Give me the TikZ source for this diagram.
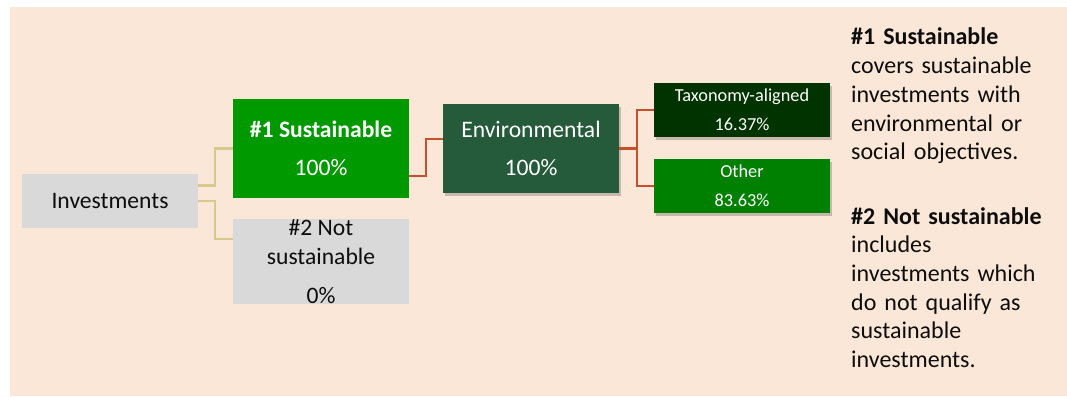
\documentclass[tikz,border=0pt]{standalone}
\usepackage{fontspec}
\setmainfont{Carlito}
\usetikzlibrary{shadows}
\definecolor{bgbeige}{HTML}{FBE7D7}
\definecolor{boxgrey}{HTML}{D9D9D9}
\definecolor{susgreen}{HTML}{009900}
\definecolor{envgreen}{HTML}{255A3B}
\definecolor{taxgreen}{HTML}{003300}
\definecolor{othgreen}{HTML}{008000}
\definecolor{khaki}{HTML}{D6C98E}
\definecolor{redline}{HTML}{C5502E}
\definecolor{txtblack}{HTML}{0D0D0D}
\tikzset{
  box/.style={rectangle, inner sep=0pt, minimum width=176pt, align=center},
  bigtext/.style={font=\fontsize{23.6pt}{29pt}\selectfont},
  smalltext/.style={font=\fontsize{18.3pt}{29pt}\selectfont},
  shade/.style={drop shadow={shadow xshift=2pt, shadow yshift=-2.5pt, opacity=0.2, fill=black}},
  khakiline/.style={draw=khaki, line width=2.4pt},
  redline/.style={draw=redline, line width=2.2pt},
  note/.style={anchor=base west, inner sep=0pt, text width=214pt, align=left, text=txtblack,
    font=\fontsize{24pt}{28.7pt}\selectfont},
}
\begin{document}
\begin{tikzpicture}[x=1pt, y=-1pt]
\useasboundingbox (0,0) rectangle (1067,396);
\fill[bgbeige] (10,7) rectangle (1067,396);

\node[box, bigtext, fill=boxgrey, minimum height=54pt, text=txtblack] (inv) at (110,201) {Investments};
\node[box, bigtext, fill=susgreen, minimum height=99pt, text=white] (sus) at (321,148.5)
  {\textbf{\#1 Sustainable}\\[9pt]100\%};
\node[box, bigtext, fill=boxgrey, minimum height=85pt, text=txtblack] (nsus) at (321,261.5)
  {\fontsize{23.6pt}{27pt}\selectfont \#2 Not\\sustainable\\[10pt]0\%};
\node[box, bigtext, fill=envgreen, minimum height=89pt, text=white, shade] (env) at (531,148.5)
  {Environmental\\[9pt]100\%};
\node[box, smalltext, fill=taxgreen, minimum height=54pt, text=white, shade] (tax) at (742,110)
  {Taxonomy-aligned\\16.37\%};
\node[box, smalltext, fill=othgreen, minimum height=54pt, text=white, shade] (oth) at (742,186)
  {Other\\83.63\%};

\draw[khakiline] ([yshift=15.5pt]inv.east) -- ++(17,0) |- (sus.west);
\draw[khakiline] (inv.east) -- ++(17,0) |- ([yshift=22.5pt]nsus.west);
\draw[redline] ([yshift=-27.5pt]sus.east) -- ++(17,0) |- ([yshift=9.5pt]env.west);
\draw[redline] (env.east) -- ++(18,0) coordinate (fork) |- (tax.west);
\draw[redline] (fork) |- (oth.west);

\node[note] (note1) at (851,45)
  {\textbf{\#1 Sustainable}\\covers sustainable\\investments with\\environmental or\\social objectives.};
\node[note] (note2) at (851,224)
  {\textbf{\#2 Not sustainable}\\includes\\investments which\\do not qualify as\\sustainable\\investments.};
\end{tikzpicture}
\end{document}
